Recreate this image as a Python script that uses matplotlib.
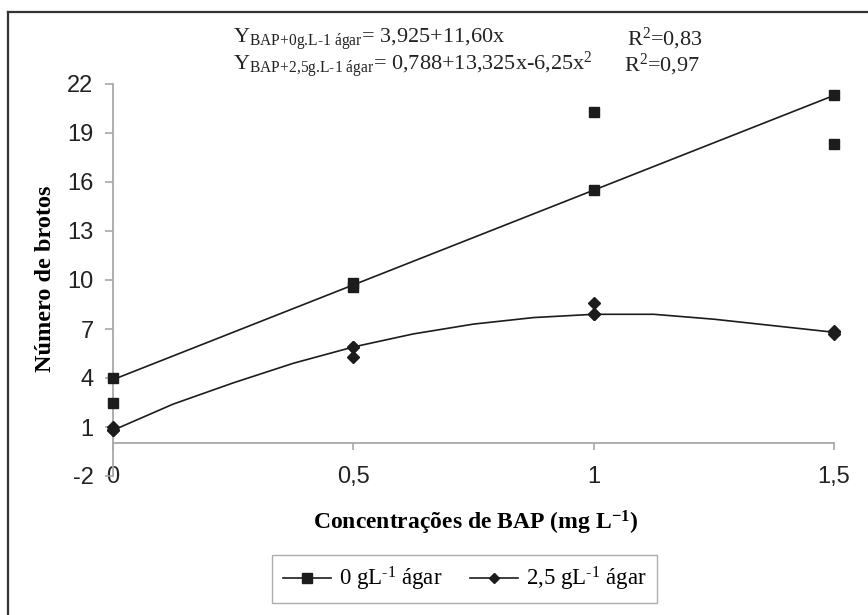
import matplotlib
matplotlib.use("Agg")
import matplotlib.pyplot as plt
from matplotlib.lines import Line2D

plt.rcParams["mathtext.fontset"] = "custom"
plt.rcParams["mathtext.rm"] = "Liberation Serif"
plt.rcParams["mathtext.it"] = "Liberation Serif:italic"
plt.rcParams["mathtext.bf"] = "Liberation Serif:bold"

# concentrations of BAP (mg/L)
conc = [0, 0.5, 1, 1.5]
xtick_labels = ["0", "0,5", "1", "1,5"]
yticks = [-2, 1, 4, 7, 10, 13, 16, 19, 22]
ytick_labels = ["-2", "1", "4", "7", "10", "13", "16", "19", "22"]

# 0 g/L agar: fitted line and observed points
fit0 = [3.9, 9.7, 15.5, 21.3]
obs0_x = [0, 0, 0.5, 0.5, 1, 1, 1.5, 1.5]
obs0_y = [4.0, 2.5, 9.8, 9.6, 20.3, 15.5, 21.3, 18.3]

# 2.5 g/L agar: smoothed curve
curve25_x = [0, 0.125, 0.25, 0.375, 0.5, 0.625, 0.75, 0.875, 1.0, 1.125, 1.25, 1.375, 1.5]
curve25_y = [0.8, 2.4, 3.7, 4.9, 5.9, 6.7, 7.3, 7.7, 7.9, 7.9, 7.6, 7.2, 6.8]
fit25 = [0.8, 5.9, 7.9, 6.8]
obs25_x = [0, 0, 0.5, 0.5, 1, 1, 1.5, 1.5]
obs25_y = [1.0, 0.8, 5.9, 5.3, 8.6, 7.9, 6.9, 6.7]

W, H = 868, 615
fig = plt.figure(figsize=(W / 100, H / 100), dpi=100)
ax = fig.add_axes([113 / W, 1 - 476 / H, (834 - 113) / W, (476 - 84) / H])

ink = "#1c1c1c"
axis_col = "#a8a8a8"

ax.plot(conc, fit0, color=ink, lw=1.2, clip_on=False, zorder=3)
ax.plot(obs0_x, obs0_y, ls="none", marker="s", ms=7.5, color=ink, clip_on=False, zorder=4)
ax.plot(curve25_x, curve25_y, color=ink, lw=1.2, clip_on=False, zorder=3)
ax.plot(conc, fit25, ls="none", marker="D", ms=6.5, color=ink, clip_on=False, zorder=4)
ax.plot(obs25_x, obs25_y, ls="none", marker="D", ms=6.5, color=ink, clip_on=False, zorder=4)

ax.set_xlim(0, 1.5)
ax.set_ylim(-2, 22)
ax.set_xticks(conc)
ax.set_xticklabels(xtick_labels)
ax.set_yticks(yticks)
ax.set_yticklabels(ytick_labels)

for s in ["top", "right"]:
    ax.spines[s].set_visible(False)
ax.spines["bottom"].set_position(("data", 0))
for s in ["left", "bottom"]:
    ax.spines[s].set_color(axis_col)
    ax.spines[s].set_linewidth(1.3)

ax.tick_params(axis="both", direction="out", color=axis_col, width=1.2,
               labelsize=17, labelcolor="#222222")
ax.tick_params(axis="y", length=6, pad=8)
ax.tick_params(axis="x", length=5, pad=11)
for t in ax.get_xticklabels() + ax.get_yticklabels():
    t.set_family("Liberation Sans")

ax.set_xlabel(r"Concentrações de BAP (mg L$^{\mathbf{-1}}$)", family="Liberation Serif",
              fontweight="bold", fontsize=17, va="center")
ax.xaxis.set_label_coords((476 - 113) / 721, (476 - 523) / 392)
ax.set_ylabel("Número de brotos", family="Liberation Serif", fontweight="bold",
              fontsize=17.5, va="center")
ax.yaxis.set_label_coords((46 - 113) / 721, (476 - 279) / 392)

# regression equations
eq_kw = dict(family="Liberation Serif", fontsize=16, color="#222222", va="center")
fig.text(233 / W, 1 - 39 / H, r"Y$_{\text{BAP+0g.L-1 ágar}}$= 3,925+11,60x", **eq_kw)
fig.text(233 / W, 1 - 65 / H, r"Y$_{\text{BAP+2,5g.L-1 ágar}}$= 0,788+13,325x-6,25x$^{\text{2}}$", **eq_kw)
fig.text(627 / W, 1 - 39 / H, r"R$^{\text{2}}$=0,83", **eq_kw)
fig.text(624 / W, 1 - 65 / H, r"R$^{\text{2}}$=0,97", **eq_kw)

handles = [
    Line2D([], [], color=ink, lw=1.2, marker="s", ms=6.5),
    Line2D([], [], color=ink, lw=1.2, marker="D", ms=5.5),
]
leg = fig.legend(handles, [r"0 gL$^{\text{-1}}$ ágar", r"2,5 gL$^{\text{-1}}$ ágar"],
                 loc="center", bbox_to_anchor=((271 + 658) / 2 / W, 1 - 579 / H),
                 ncol=2, frameon=True, fancybox=False, handlelength=2.1,
                 handletextpad=0.35, columnspacing=1.2, borderpad=0.45,
                 borderaxespad=0, prop={"family": "Liberation Serif", "size": 16.5})
leg.get_frame().set_edgecolor("#999999")
leg.get_frame().set_linewidth(1.0)

# scanned frame (top and left edges)
fig.add_artist(Line2D([8 / W, 1], [1 - 12 / H, 1 - 12 / H], transform=fig.transFigure,
                      color="#333333", lw=1.6))
fig.add_artist(Line2D([8 / W, 8 / W], [0, 1 - 12 / H], transform=fig.transFigure,
                      color="#333333", lw=1.6))

fig.savefig("out.png", dpi=100)
